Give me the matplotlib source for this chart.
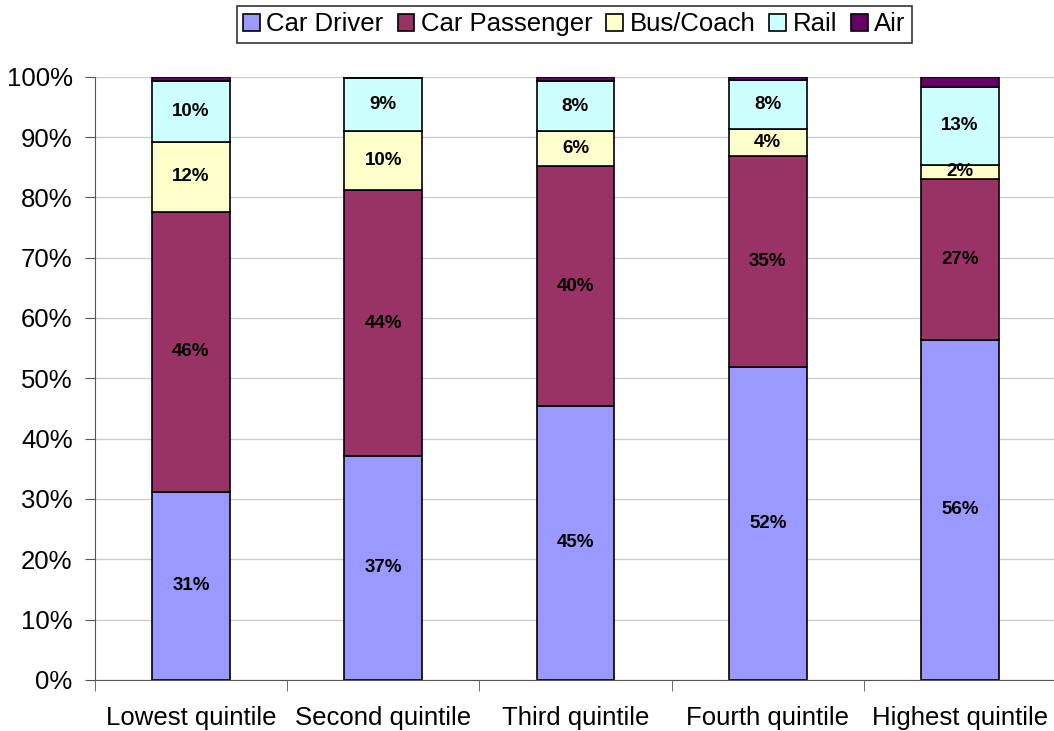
import numpy as np
import matplotlib.pyplot as plt

plt.rcParams['font.family'] = ['Liberation Sans', 'DejaVu Sans']

quintiles = ['Lowest quintile', 'Second quintile', 'Third quintile',
             'Fourth quintile', 'Highest quintile']
modes = ['Car Driver', 'Car Passenger', 'Bus/Coach', 'Rail', 'Air']

car_driver = [31.2, 37.1, 45.4, 51.9, 56.4]
car_passenger = [46.4, 44.1, 39.8, 35.0, 26.7]
bus_coach = [11.6, 9.8, 5.8, 4.5, 2.3]
rail = [10.1, 8.8, 8.3, 8.1, 12.9]
air = [0.7, 0.2, 0.7, 0.5, 1.7]

colours = ['#9999FF', '#993366', '#FFFFCC', '#CCFFFF', '#660066']

fig = plt.figure(figsize=(10.54, 7.31), dpi=100)
ax = fig.add_axes([0.090, 0.070, 0.912, 0.825])

x = np.arange(len(quintiles))
bottom = np.zeros(len(quintiles))
for name, vals, col in zip(modes, [car_driver, car_passenger, bus_coach, rail, air], colours):
    vals = np.array(vals) / 100
    ax.bar(x, vals, 0.405, bottom=bottom, color=col, edgecolor='black',
           linewidth=1.2, label=name, zorder=3)
    for xi, b, v in zip(x, bottom, vals):
        if v >= 0.02:
            ax.text(xi, b + v / 2, f'{v * 100:.0f}%', ha='center', va='center',
                    fontsize=13.5, fontweight='bold', zorder=4)
    bottom += vals

ax.set_xlim(-0.5, 4.5)
ax.set_ylim(0, 1)
ax.set_yticks(np.arange(0, 1.01, 0.1))
ax.set_yticklabels([f'{v}%' for v in range(0, 101, 10)], fontsize=18.5)
ax.yaxis.grid(True, color='#cccccc', linewidth=1, zorder=0)

ax.set_xticks(x)
ax.set_xticklabels(quintiles, fontsize=18.5)
ax.set_xticks(np.arange(-0.5, 4.6, 1), minor=True)
ax.tick_params(axis='x', which='major', length=0, pad=19)
ax.tick_params(axis='x', which='minor', length=8, color='#555555', direction='out')
ax.tick_params(axis='y', length=7, color='#555555', pad=9)

for s in ['top', 'right']:
    ax.spines[s].set_visible(False)
for s in ['left', 'bottom']:
    ax.spines[s].set_color('#555555')

leg = fig.legend(loc='upper center', bbox_to_anchor=(0.545, 0.999), ncol=5,
                 fontsize=18.5, frameon=True, fancybox=False, edgecolor='black',
                 handlelength=0.65, handleheight=0.65, handletextpad=0.25,
                 columnspacing=0.55, borderpad=0.25, borderaxespad=0.2)
leg.get_frame().set_linewidth(1.2)

fig.savefig('out.png', dpi=100)
